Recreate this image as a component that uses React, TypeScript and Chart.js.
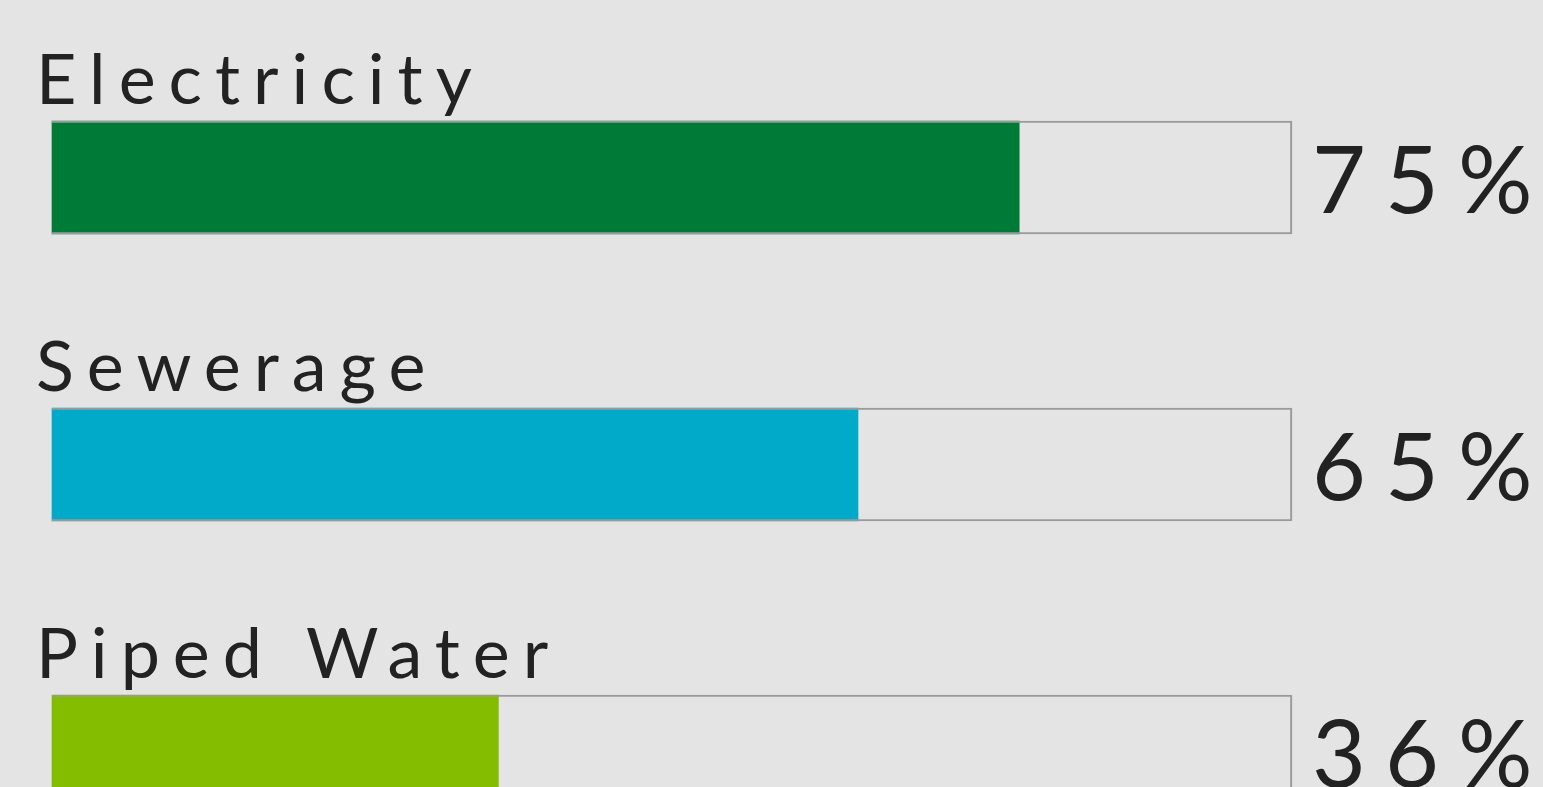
import React, { useEffect, useRef } from "react";
import { Chart, registerables } from "chart.js";

Chart.register(...registerables);

const categories = ["Electricity", "Sewerage", "Piped Water"];
const fillValues = [78, 65, 36];
const shownPercents = [75, 65, 36];
const trackValues = [100, 100, 100];
const fillColors = ["#007a37", "#00aac8", "#84bc00"];

const BG = "#e4e4e4";
const TEXT = "#222222";

const labelPlugin = {
  id: "labelPlugin",
  beforeDraw(chart: any) {
    const ctx = chart.ctx;
    ctx.save();
    ctx.fillStyle = BG;
    ctx.fillRect(0, 0, chart.width, chart.height);
    ctx.restore();
  },
  afterDatasetsDraw(chart: any) {
    const ctx = chart.ctx;
    const meta = chart.getDatasetMeta(1);
    ctx.save();
    ctx.fillStyle = TEXT;
    ctx.textAlign = "left";
    ctx.textBaseline = "alphabetic";
    meta.data.forEach((el: any, i: number) => {
      const top = el.y - el.height / 2;
      ctx.font = "400 70px Lato";
      (ctx as any).letterSpacing = "13px";
      ctx.fillText(categories[i], 36, top - 17);
      ctx.font = "400 93px Lato";
      (ctx as any).letterSpacing = "19px";
      ctx.fillText(shownPercents[i] + "%", chart.chartArea.right + 20, el.y + 35);
    });
    ctx.restore();
  },
};

export default function App() {
  const ref = useRef<HTMLCanvasElement>(null);
  useEffect(() => {
    document.body.style.margin = "0";
    document.body.style.background = BG;
    const chart = new Chart(ref.current!, {
      type: "bar",
      data: {
        labels: categories,
        datasets: [
          {
            data: fillValues,
            backgroundColor: fillColors,
            borderWidth: 0,
            barThickness: 113,
            grouped: false,
            clip: false,
            order: 2,
          } as any,
          {
            data: trackValues,
            backgroundColor: "rgba(0,0,0,0)",
            borderColor: "#9a9a9a",
            borderWidth: 1.5,
            barThickness: 113,
            grouped: false,
            clip: false,
            order: 1,
          } as any,
        ],
      },
      options: {
        indexAxis: "y",
        animation: false,
        responsive: false,
        maintainAspectRatio: false,
        layout: { padding: { left: 52, right: 251, top: 177.5, bottom: 35.5 } },
        plugins: { legend: { display: false }, tooltip: { enabled: false } },
        scales: {
          x: { display: false, min: 0, max: 100 },
          y: { display: false, offset: false, grid: { display: false } },
        },
      },
      plugins: [labelPlugin],
    });
    return () => chart.destroy();
  }, []);
  return (
    <div style={{ position: "absolute", left: 0, top: 0, width: 1543, height: 787 }}>
      <canvas ref={ref} width={1543} height={787} style={{ width: 1543, height: 787, display: "block" }} />
    </div>
  );
}
